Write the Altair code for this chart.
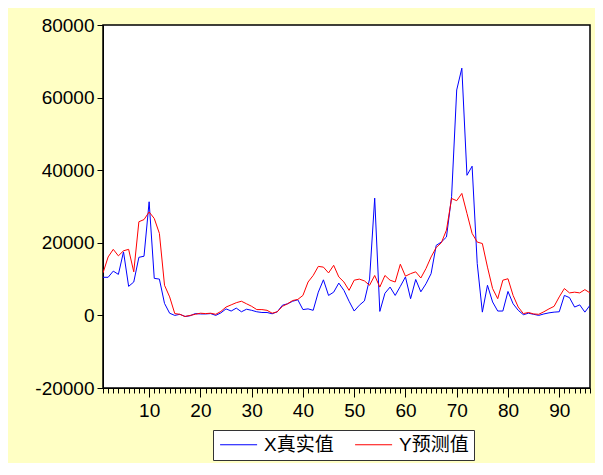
import altair as alt
import pandas as pd

obs = list(range(1, 97))

x_true = [10500, 10500, 12200, 11300, 17500, 8000, 9200, 16000, 16300, 31300,
          10200, 10000, 3300, 600, 0, 300, -300, -100, 500, 400,
          400, 500, 0, 700, 1800, 1200, 2000, 1000, 1700, 1400,
          1000, 800, 800, 450, 1000, 2800, 3200, 3900, 4300, 1600,
          1800, 1400, 6400, 9800, 5500, 6400, 8900, 6900, 3900, 1200,
          2800, 4000, 10000, 32300, 1100, 6100, 7800, 5500, 8000, 10600,
          4600, 9900, 6500, 8700, 11500, 19300, 20200, 21600, 32700, 62100,
          68100, 38600, 41100, 14300, 900, 8300, 3700, 1200, 1200, 6600,
          3200, 1400, 200, 600, 300, 0, 400, 700, 900, 1000,
          5500, 4900, 2300, 2900, 900, 2800]

y_pred = [11700, 16100, 18200, 16400, 17800, 18200, 12000, 25800, 26400, 28500,
          26700, 22600, 8300, 5100, 500, 300, -300, 0, 300, 600,
          500, 600, 300, 1100, 2300, 2900, 3500, 3900, 3200, 2500,
          1600, 1600, 1400, 600, 1000, 2500, 3200, 4100, 4400, 5500,
          9200, 11000, 13500, 13300, 11700, 13800, 10600, 9200, 6900, 9700,
          10000, 9500, 8300, 11000, 7800, 11000, 9700, 9200, 14100, 10800,
          11500, 12000, 10300, 12900, 16100, 18700, 20000, 23500, 32200, 31600,
          33600, 28100, 22600, 20200, 19800, 13300, 7400, 4600, 9700, 10100,
          5500, 2300, 500, 800, 400, 300, 1000, 1800, 2500, 5100,
          7400, 6200, 6400, 6200, 7100, 6200]

series_names = ["X真实值", "Y预测值"]
series_colors = ["#0000FF", "#FF0000"]
y_ticks = [-20000, 0, 20000, 40000, 60000, 80000]

df = pd.concat([
    pd.DataFrame({"obs": obs, "value": x_true, "series": series_names[0]}),
    pd.DataFrame({"obs": obs, "value": y_pred, "series": series_names[1]}),
])

FONT = "Liberation Sans, Arial, Noto Sans CJK SC"

chart = alt.Chart(df).mark_line(strokeWidth=1, clip=True).encode(
    x=alt.X("obs:Q",
            scale=alt.Scale(domain=[1, 96], nice=False, zero=False),
            axis=alt.Axis(title=None, values=obs, format="d",
                          labelExpr="datum.value % 10 === 0 ? datum.label : ''",
                          labelOverlap=False,
                          tickSize={"condition": {"test": "datum.value % 10 === 0", "value": 9}, "value": 5},
                          labelPadding=4, labelFontSize=19, labelFont=FONT,
                          labelColor="black", tickColor="black", domainColor="black",
                          grid=False)),
    y=alt.Y("value:Q",
            scale=alt.Scale(domain=[-20000, 80000], nice=False),
            axis=alt.Axis(title=None, values=y_ticks,
                          labelExpr="toString(datum.value)",
                          tickSize=6, labelPadding=3, labelFontSize=19, labelFont=FONT,
                          labelColor="black", tickColor="black", domainColor="black",
                          grid=False)),
    color=alt.Color("series:N",
                    scale=alt.Scale(domain=series_names, range=series_colors),
                    legend=alt.Legend(title=None, orient="none", legendX=110, legendY=405,
                                      direction="horizontal", symbolType="M-2,0H8",
                                      symbolSize=54.76, symbolStrokeWidth=1,
                                      labelFontSize=19, labelFont=FONT, labelColor="black",
                                      labelOffset=27, columnPadding=19,
                                      padding=5, strokeColor="#333333", fillColor="white")),
    order=alt.Order("obs:Q"),
).properties(
    width=487, height=363,
    background="#FFFFC4",
    padding={"left": 95, "top": 17, "right": 5, "bottom": 75},
    autosize=alt.AutoSizeParams(type="none"),
).configure_view(
    stroke="black", strokeWidth=1.5, fill="white"
)

chart.save("out.html", embed_options={"renderer": "svg", "actions": False})
